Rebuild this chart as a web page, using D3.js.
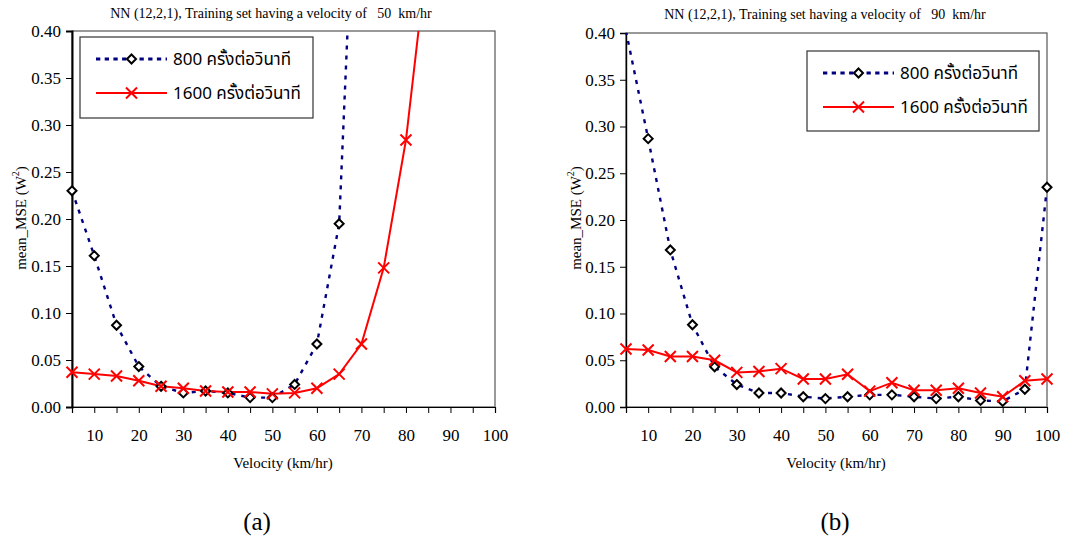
<!DOCTYPE html>
<html><head><meta charset="utf-8">
<script src="https://cdn.jsdelivr.net/npm/d3@7"></script>
<style>
html,body{margin:0;padding:0;background:#fff;}
svg{display:block;}
text{white-space:pre;}
</style></head>
<body>
<svg id="c" width="1080" height="547"></svg>
<script>
// ---- data ----
const velocities = [5,10,15,20,25,30,35,40,45,50,55,60,65,70,75,80,85,90,95,100];
const xTickLabels = [10,20,30,40,50,60,70,80,90,100];
const yTicks = [0,0.05,0.10,0.15,0.20,0.25,0.30,0.35,0.40];
const seriesNames = ["800 ครั้งต่อวินาที","1600 ครั้งต่อวินาที"];
// chart (a): training at 50 km/hr (null = not known / off-chart)
const a800  = [0.230,0.161,0.087,0.043,0.022,0.015,0.017,0.015,0.010,0.010,0.024,0.067,0.195,0.74,null,null,null,null,null,null];
const a1600 = [0.037,0.035,0.033,0.028,0.022,0.020,0.017,0.016,0.016,0.014,0.015,0.020,0.035,0.067,0.148,0.284,0.49,null,null,null];
// chart (b): training at 90 km/hr
const b800  = [0.402,0.287,0.168,0.088,0.043,0.024,0.015,0.015,0.011,0.009,0.011,0.013,0.013,0.011,0.009,0.011,0.007,0.006,0.019,0.235];
const b1600 = [0.062,0.061,0.054,0.054,0.050,0.037,0.038,0.041,0.030,0.030,0.035,0.017,0.026,0.018,0.018,0.020,0.015,0.011,0.028,0.030];
const titles = ["NN (12,2,1), Training set having a velocity of   50  km/hr",
                "NN (12,2,1), Training set having a velocity of   90  km/hr"];
const panelLabels = ["(a)","(b)"];

const svg = d3.select("#c");
const serif = '"Liberation Serif","DejaVu Serif","Noto Serif",serif';
const thai = "Tahoma,'Noto Sans Thai','DejaVu Sans','Noto Sans',sans-serif";

function drawChart(cfg, idx){
  const g = svg.append("g");
  const x = d3.scaleLinear().domain([5,100]).range([cfg.left, cfg.right]);
  const y = d3.scaleLinear().domain([0,0.4]).range([cfg.bottom, cfg.top]);

  // title
  g.append("text").style("font-family",serif).attr("x",cfg.titleX).attr("y",cfg.titleY).attr("text-anchor","middle")
    .style("font-size","14px").attr("fill","#000").text(titles[idx]);

  // plot border
  g.append("rect").attr("x",cfg.left).attr("y",cfg.top).attr("width",cfg.right-cfg.left)
    .attr("height",cfg.bottom-cfg.top).attr("fill","none").attr("stroke","#555").attr("stroke-width",1.2);

  // y axis
  const yAxis = d3.axisLeft(y).tickValues(yTicks).tickFormat(d3.format(".2f")).tickSizeOuter(0).tickSize(6).tickPadding(5);
  const ya = g.append("g").attr("transform",`translate(${cfg.left},0)`).call(yAxis);
  ya.style("font-family",serif).style("font-size","17px");
  ya.select(".domain").attr("stroke","#000").attr("stroke-width",cfg.yAxisW);
  ya.selectAll(".tick line").attr("stroke","#000");
  ya.selectAll("text").style("font-family",serif).style("font-size","17px").attr("fill","#000");

  // x axis (ticks every category, labels every 10)
  const xAxis = d3.axisBottom(x).tickValues(velocities).tickSizeOuter(0).tickSize(6)
     .tickFormat(d => xTickLabels.includes(d) ? d : "").tickPadding(16);
  const xa = g.append("g").attr("transform",`translate(0,${cfg.bottom})`).call(xAxis);
  xa.style("font-family",serif).style("font-size","17px");
  xa.select(".domain").attr("stroke","#000").attr("stroke-width",1.2);
  xa.selectAll(".tick line").attr("stroke","#000");
  xa.selectAll("text").style("font-family",serif).style("font-size","17px").attr("fill","#000");

  // axis titles
  g.append("text").style("font-family",serif).attr("x",cfg.xTitleX).attr("y",cfg.bottom+61).attr("text-anchor","middle")
    .style("font-size","15px").attr("fill","#000").text("Velocity (km/hr)");
  const yt = g.append("text").style("font-family",serif).attr("transform",`translate(${cfg.yTitleX},${cfg.yTitleY}) rotate(-90)`)
    .attr("text-anchor","middle").style("font-size","15px").attr("fill","#000");
  yt.append("tspan").text("mean_MSE (W");
  yt.append("tspan").attr("dy",-7).style("font-size","10px").text("2");
  yt.append("tspan").attr("dy",7).text(")");

  // clip
  const cid = "clip"+idx;
  g.append("clipPath").attr("id",cid).append("rect").attr("x",cfg.left-2).attr("y",cfg.top)
    .attr("width",cfg.right-cfg.left+4).attr("height",cfg.bottom-cfg.top+4);

  const line = d3.line().defined(d=>d[1]!=null).x(d=>x(d[0])).y(d=>y(d[1]));
  const s800 = velocities.map((v,i)=>[v,cfg.d800[i]]);
  const s1600 = velocities.map((v,i)=>[v,cfg.d1600[i]]);

  g.append("path").datum(s800).attr("clip-path",`url(#${cid})`).attr("d",line).attr("fill","none")
    .attr("stroke","#000080").attr("stroke-width",2.4).attr("stroke-dasharray","4,6");
  g.append("path").datum(s1600).attr("clip-path",`url(#${cid})`).attr("d",line).attr("fill","none")
    .attr("stroke","#ff0000").attr("stroke-width",2);

  const diamond = (cx,cy,r)=>`M${cx},${cy-r}L${cx+r},${cy}L${cx},${cy+r}L${cx-r},${cy}Z`;
  const cross = (cx,cy,r)=>`M${cx-r},${cy-r}L${cx+r},${cy+r}M${cx-r},${cy+r}L${cx+r},${cy-r}`;

  g.selectAll(".m800").data(s800.filter(d=>d[1]!=null && d[1]<=0.4)).enter().append("path")
    .attr("d",d=>diamond(x(d[0]),y(d[1]),4.5)).attr("fill","#fff").attr("stroke","#000").attr("stroke-width",2);
  g.selectAll(".m1600").data(s1600.filter(d=>d[1]!=null && d[1]<=0.4)).enter().append("path")
    .attr("d",d=>cross(x(d[0]),y(d[1]),5.5)).attr("fill","none").attr("stroke","#ff0000").attr("stroke-width",2);

  // legend
  const L = cfg.legend;
  g.append("rect").attr("x",L.x).attr("y",L.y).attr("width",L.w).attr("height",L.h)
    .attr("fill","#fff").attr("stroke","#333").attr("stroke-width",1.2);
  const lx0 = L.x+16, lx1 = L.x+87, lmid = (lx0+lx1)/2;
  const r1 = L.y+22, r2 = L.y+56;
  g.append("line").attr("x1",lx0).attr("x2",lx1).attr("y1",r1).attr("y2",r1)
    .attr("stroke","#000080").attr("stroke-width",3).attr("stroke-dasharray","4.3,4.4");
  g.append("path").attr("d",diamond(lmid,r1,4.5)).attr("fill","#fff").attr("stroke","#000").attr("stroke-width",2);
  g.append("line").attr("x1",lx0).attr("x2",lx1).attr("y1",r2).attr("y2",r2)
    .attr("stroke","#ff0000").attr("stroke-width",2);
  g.append("path").attr("d",cross(lmid,r2,5.5)).attr("stroke","#ff0000").attr("stroke-width",2);
  [r1,r2].forEach((ry,i)=>{
    g.append("text").attr("x",lx1+6).attr("y",ry+6).style("font-family",thai).style("font-size","17px")
      .attr("fill","#000").text(seriesNames[i]);
  });

  // panel label
  g.append("text").style("font-family",serif).attr("x",cfg.panelX).attr("y",530).attr("text-anchor","middle")
    .style("font-size","25px").attr("fill","#000").text(panelLabels[idx]);
}

drawChart({left:72,right:495,top:31,bottom:407,titleX:271,titleY:18,xTitleX:283,yTitleX:26,yTitleY:218,
  yAxisW:2,d800:a800,d1600:a1600,legend:{x:80,y:37,w:233,h:81},panelX:257},0);
drawChart({left:626,right:1047,top:33,bottom:407,titleX:825,titleY:19,xTitleX:836,yTitleX:581,yTitleY:218,
  yAxisW:1.4,d800:b800,d1600:b1600,legend:{x:807,y:51,w:232,h:80},panelX:835},1);
</script>
</body></html>
